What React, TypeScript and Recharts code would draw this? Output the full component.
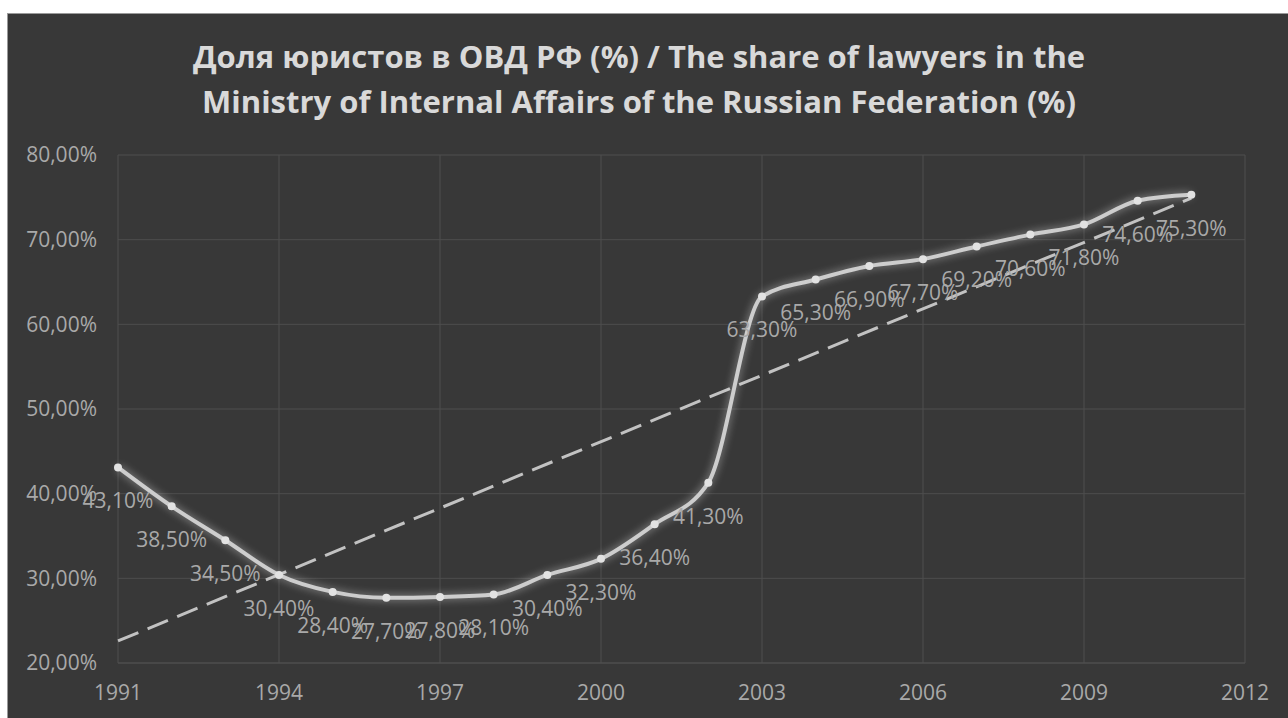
import React from 'react';
import {
  LineChart,
  Line,
  XAxis,
  YAxis,
  CartesianGrid,
  ReferenceLine,
  LabelList,
} from 'recharts';

// values
const years = [
  1991, 1992, 1993, 1994, 1995, 1996, 1997, 1998, 1999, 2000, 2001, 2002, 2003,
  2004, 2005, 2006, 2007, 2008, 2009, 2010, 2011,
];
const shares = [
  43.1, 38.5, 34.5, 30.4, 28.4, 27.7, 27.8, 28.1, 30.4, 32.3, 36.4, 41.3, 63.3,
  65.3, 66.9, 67.7, 69.2, 70.6, 71.8, 74.6, 75.3,
];
// dashed trend line ends, as drawn in the picture
const trendYears = [1991, 2011];
const trendValues = [22.6, 74.9];
const xTicks = [1991, 1994, 1997, 2000, 2003, 2006, 2009, 2012];
const yTicks = [20, 30, 40, 50, 60, 70, 80];

const data = years.map((year, i) => ({ year, share: shares[i] }));

const BG = '#383838';
const GRID = '#4e4e4e';
const TEXT = '#a9a9a9';
const LINE = '#cdcdcd';
const FONT = '"Open Sans", sans-serif';

const pct = (v: number) => `${v.toFixed(2).replace('.', ',')}%`;

const PointLabel = (props: any) => {
  const { x, y, value } = props;
  return (
    <text
      x={x}
      y={y + 41}
      textAnchor="middle"
      fill={TEXT}
      fontSize={21}
      fontFamily={FONT}
    >
      {pct(value)}
    </text>
  );
};

export default function App() {
  return (
    <div
      style={{
        position: 'absolute',
        left: 0,
        top: 0,
        width: 1288,
        height: 718,
        background: '#ffffff',
        overflow: 'hidden',
      }}
    >
      <style>{`
        .glow .recharts-line-curve { filter: drop-shadow(0 0 4px rgba(255,255,255,0.55)); }
        .glow .recharts-line-dot { filter: drop-shadow(0 0 4px rgba(255,255,255,0.8)); }
      `}</style>
      <div
        style={{
          position: 'absolute',
          left: 7,
          top: 13,
          width: 1281,
          height: 705,
          background: BG,
          borderTop: '1px solid #9a9a9a',
          borderLeft: '1px solid #9a9a9a',
          boxSizing: 'border-box',
        }}
      >
        <div
          style={{
            position: 'absolute',
            left: 0,
            top: 20,
            width: 1262,
            textAlign: 'center',
            color: '#d9d9d9',
            fontFamily: FONT,
            fontWeight: 700,
            fontSize: 31,
            lineHeight: '45px',
          }}
        >
          Доля юристов в ОВД РФ (%) / The share of lawyers in the
          <br />
          Ministry of Internal Affairs of the Russian Federation (%)
        </div>
        <div style={{ position: 'absolute', left: -1, top: -1 }}>
          <LineChart
            width={1281}
            height={705}
            data={data}
            margin={{ top: 142, right: 43, left: 0, bottom: 0 }}
          >
            <CartesianGrid stroke={GRID} strokeWidth={1} />
            <XAxis
              dataKey="year"
              type="number"
              domain={[1991, 2012]}
              ticks={xTicks}
              height={55}
              tickLine={false}
              tickSize={0}
              tickMargin={22}
              axisLine={{ stroke: GRID }}
              tick={{ fill: TEXT, fontSize: 21, fontFamily: FONT }}
            />
            <YAxis
              type="number"
              domain={[20, 80]}
              ticks={yTicks}
              width={111}
              tickLine={false}
              tickSize={0}
              tickMargin={21}
              axisLine={false}
              tickFormatter={pct}
              tick={{ fill: TEXT, fontSize: 21, fontFamily: FONT }}
            />
            <ReferenceLine
              segment={[
                { x: trendYears[0], y: trendValues[0] },
                { x: trendYears[1], y: trendValues[1] },
              ]}
              stroke="#c2c2c2"
              strokeWidth={3}
              strokeDasharray="22 10"
            />
            <Line
              className="glow"
              type="monotone"
              dataKey="share"
              stroke={LINE}
              strokeWidth={4}
              dot={{ r: 4, fill: '#e2e2e2', stroke: 'none' }}
              activeDot={false}
              isAnimationActive={false}
            >
              <LabelList dataKey="share" content={PointLabel} />
            </Line>
          </LineChart>
        </div>
      </div>
    </div>
  );
}
